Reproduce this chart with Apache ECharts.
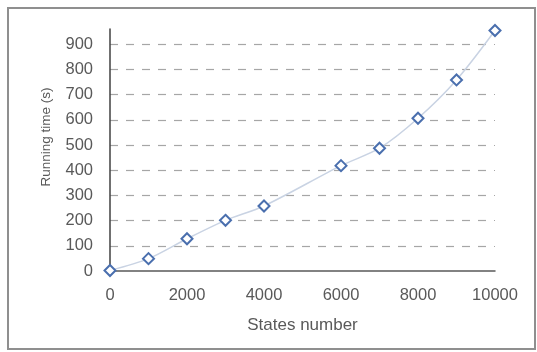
<!DOCTYPE html>
<html><head><meta charset="utf-8">
<script src="https://cdn.jsdelivr.net/npm/echarts@6/dist/echarts.min.js"></script>
<style>html,body{margin:0;padding:0;background:#fff;}#c{width:537px;height:352px;}</style>
</head><body><div id="c"></div>
<script>
const statesNumber = [0, 1000, 2000, 3000, 4000, 6000, 7000, 8000, 9000, 10000];
const runningTime = [2, 49, 128, 201, 258, 418, 487, 606, 758, 954];
const xTitle = 'States number';
const yTitle = 'Running time (s)';

const chart = echarts.init(document.getElementById('c'), null, {renderer: 'canvas'});
const font = 'Liberation Sans, Arial, sans-serif';
chart.setOption({
  animation: false,
  backgroundColor: '#fff',
  graphic: [{type: 'rect', shape: {x: 8, y: 8, width: 527, height: 341},
    style: {fill: 'none', stroke: '#8f8f8f', lineWidth: 2}, silent: true}],
  grid: {left: 110, right: 42, top: 29, bottom: 81, containLabel: false},
  xAxis: {
    type: 'value', min: 0, max: 10000, interval: 2000,
    name: xTitle, nameLocation: 'middle', nameGap: 46,
    nameTextStyle: {color: '#595959', fontSize: 17, fontFamily: font},
    axisLine: {show: true, lineStyle: {color: '#595959', width: 1.5}},
    axisTick: {show: false},
    axisLabel: {color: '#595959', fontSize: 16.5, fontFamily: font, margin: 16, formatter: v => String(v)},
    splitLine: {show: false}
  },
  yAxis: {
    type: 'value', min: 0, max: 960, interval: 100,
    name: yTitle, nameLocation: 'middle', nameGap: 57, nameRotate: 90,
    nameTextStyle: {color: '#595959', fontSize: 13.5, fontFamily: font, padding: [0, 0, 0, 26]},
    axisLine: {show: true, lineStyle: {color: '#404040', width: 1.5}},
    axisTick: {show: false},
    axisLabel: {color: '#595959', fontSize: 16.5, fontFamily: font, margin: 17, showMaxLabel: false},
    splitLine: {show: true, showMinLine: false, showMaxLine: false, lineStyle: {color: '#a6a6a6', type: [8, 8], width: 1.2}}
  },
  series: [{
    type: 'line',
    data: statesNumber.map((x, i) => [x, runningTime[i]]),
    smooth: 0.3,
    lineStyle: {color: '#c9d3e3', width: 1.5},
    symbol: 'diamond', symbolSize: 11, showSymbol: true,
    itemStyle: {color: '#ffffff', borderColor: '#4a6fae', borderWidth: 2}
  }]
});
</script></body></html>
